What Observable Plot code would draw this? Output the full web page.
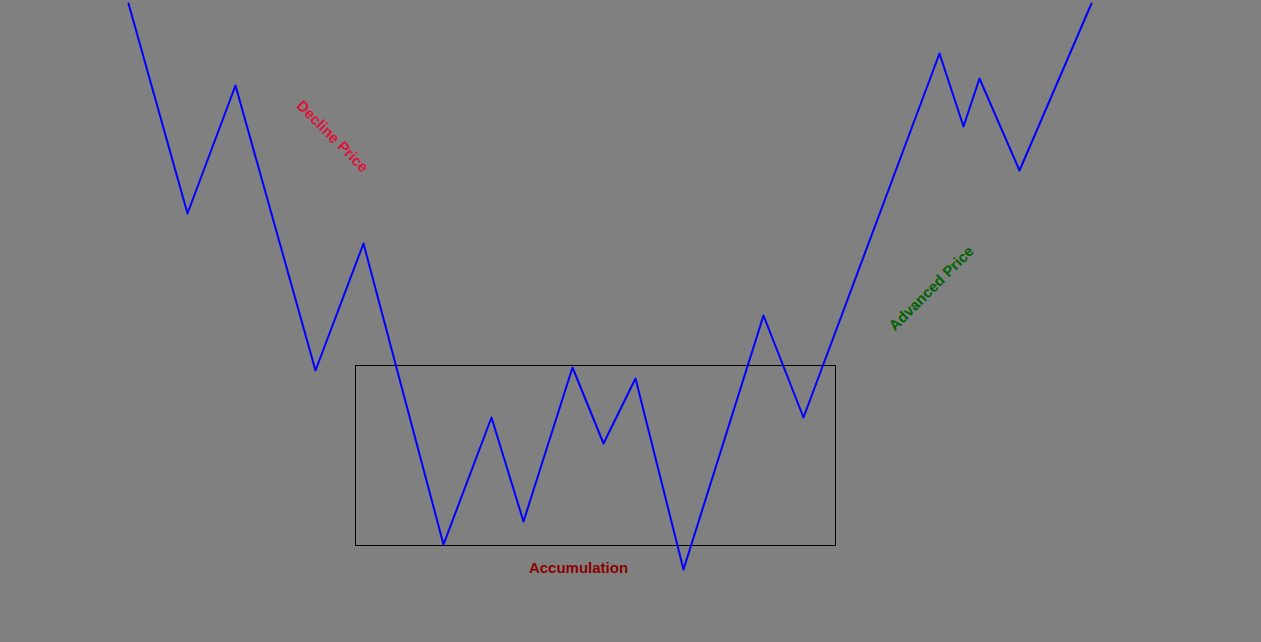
<!DOCTYPE html>
<html>
<head>
<meta charset="utf-8">
<script src="https://cdn.jsdelivr.net/npm/d3@7"></script>
<script src="https://cdn.jsdelivr.net/npm/@observablehq/plot@0.6"></script>
<style>
  html, body { margin: 0; padding: 0; background: #808080; overflow: hidden; }
  #chart svg { display: block; }
  #chart svg text { font-weight: 900 !important; font-family: "Liberation Sans", Arial, sans-serif; }
</style>
</head>
<body>
<div id="chart"></div>
<script>
// Time index and price of each swing point
const times  = [128, 187, 235, 315, 363, 443, 491, 523, 572, 603, 635, 683, 763, 803, 939, 963, 979, 1019, 1091];
const prices = [639, 429, 557, 272, 399,  98, 225, 121, 275, 199, 264,  73, 327, 225, 589, 516, 564,  472,  639];

// Accumulation range box
const boxStart = [355.5];
const boxEnd   = [835.5];
const boxLow   = [96.5];
const boxHigh  = [276.5];

// Annotations
const labelText   = ["Decline Price", "Advanced Price", "Accumulation"];
const labelTime   = [332, 931, 578];
const labelPrice  = [506, 354, 74];
const labelAngle  = [45, -45, 0];
const labelColor  = ["#dc143c", "#006400", "#8b0000"];

const path = times.map((t, i) => ({t, p: prices[i]}));
const box = boxStart.map((s, i) => ({x1: s, x2: boxEnd[i], y1: boxLow[i], y2: boxHigh[i]}));
const labels = labelText.map((txt, i) => ({txt, t: labelTime[i], p: labelPrice[i], a: labelAngle[i], c: labelColor[i]}));

const chart = Plot.plot({
  width: 1261,
  height: 642,
  margin: 0,
  style: {background: "#808080", overflow: "visible"},
  x: {domain: [0, 1261], axis: null},
  y: {domain: [0, 642], axis: null},
  marks: [
    Plot.rect(box, {x1: "x1", x2: "x2", y1: "y1", y2: "y2", fill: "none", stroke: "black", strokeWidth: 1, shapeRendering: "crispEdges", inset: 0}),
    Plot.line(path, {x: "t", y: "p", stroke: "#0000ff", strokeWidth: 2, curve: "linear"}),
    ...labels.map(d => Plot.text([d], {
      x: "t", y: "p", text: "txt", rotate: d.a, fill: d.c,
      fontSize: 15, fontWeight: "bold", fontFamily: "Liberation Sans, Arial, sans-serif",
      textAnchor: "middle"
    }))
  ]
});
document.getElementById("chart").append(chart);
</script>
</body>
</html>
